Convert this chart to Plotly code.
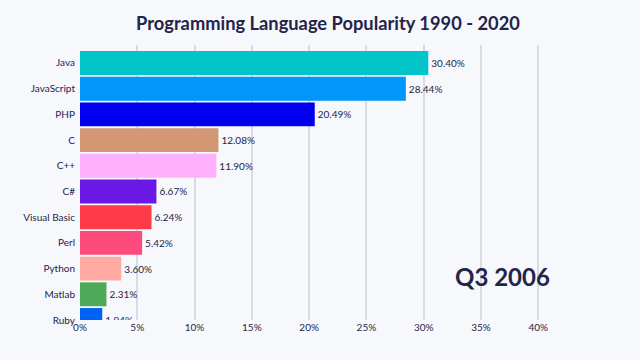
import plotly.graph_objects as go

languages = ["Java", "JavaScript", "PHP", "C", "C++", "C#", "Visual Basic", "Perl", "Python", "Matlab", "Ruby"]
shares = [30.40, 28.44, 20.49, 12.08, 11.90, 6.67, 6.24, 5.42, 3.60, 2.31, 1.94]
colors = ["#00c4c8", "#0096fa", "#0000ee", "#d39873", "#ffb0fc", "#6a18e6",
          "#ff3b47", "#ff4a7e", "#ffaaa2", "#4caa5a", "#0062f5"]
x_ticks = [0, 5, 10, 15, 20, 25, 30, 35, 40]
x_tick_labels = [f"{v}%" for v in x_ticks]
period_label = "Q3 2006"
title = "Programming Language Popularity 1990 - 2020"

BG = "#f6f8fc"
INK = "#24244a"
FONT = "Lato"

fig = go.Figure(go.Bar(
    x=shares,
    y=languages,
    orientation="h",
    marker=dict(color=colors, line=dict(width=0)),
    width=0.93,
    text=[f"{v:.2f}%" for v in shares],
    textposition="outside",
    textfont=dict(family=FONT, size=10, color=INK),
    cliponaxis=True,
))

fig.update_layout(
    width=640, height=360,
    paper_bgcolor=BG, plot_bgcolor=BG,
    margin=dict(l=80, r=96, t=45, b=40, autoexpand=False),
    title=dict(text=f"<b>{title}</b>", x=0.5125, xanchor="center", y=0.935, yanchor="middle",
               font=dict(family=FONT, size=18.3, color=INK)),
    showlegend=False,
    font=dict(family=FONT, color=INK),
    bargap=0.05,
)

fig.update_xaxes(
    range=[0, 40.5],
    tickvals=x_ticks, ticktext=x_tick_labels,
    showgrid=True, gridcolor="#d8dbe3", gridwidth=1.5,
    zeroline=False, showline=False, automargin=False,
    tickfont=dict(family=FONT, size=10, color=INK),
    ticks="", ticklabelstandoff=0,
)
fig.update_yaxes(
    type="category",
    categoryorder="array", categoryarray=languages,
    range=[10.0, -0.70],
    showgrid=False, zeroline=False, showline=False, automargin=False,
    tickfont=dict(family=FONT, size=10, color=INK),
    ticks="", ticklabelstandoff=4,
)

fig.add_annotation(
    text=f"<b>{period_label}</b>", xref="paper", yref="paper",
    x=0.91, y=0.16, xanchor="center", yanchor="middle",
    showarrow=False, font=dict(family=FONT, size=24, color=INK),
)

fig.write_html("out.html", config={"displayModeBar": False},
               post_script="document.body.style.margin='0px';document.body.style.background='%s';" % BG)
